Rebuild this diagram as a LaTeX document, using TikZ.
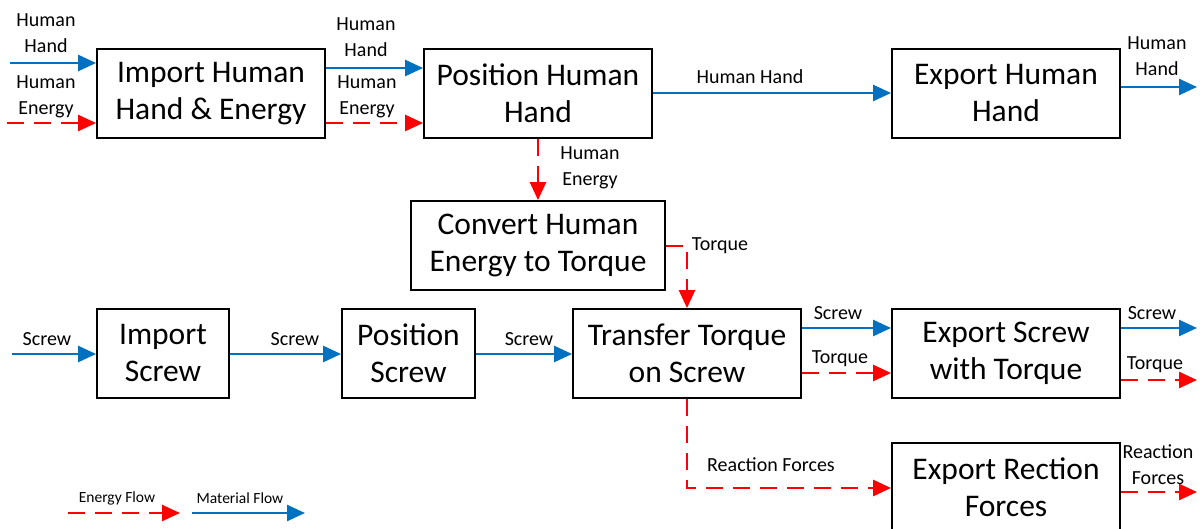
\documentclass[tikz,border=0pt]{standalone}
\usepackage{fontspec}
\setmainfont{Carlito}
\usetikzlibrary{arrows.meta}
\definecolor{matblue}{HTML}{0070C0}
\definecolor{enred}{HTML}{FF0000}
\newcommand{\boxfont}{\fontsize{31.5}{37}\selectfont}
\newcommand{\lblbig}{\fontsize{20}{26}\selectfont}
\newcommand{\lbllegend}{\fontsize{15.5}{18}\selectfont}
\begin{document}
\begin{tikzpicture}[x=1pt,y=-1pt,
  box/.style={draw, line width=1.8pt, minimum width=#1, minimum height=89pt, inner sep=0pt, align=center, font=\boxfont},
  mat/.style={draw=matblue, line width=2.5pt, -{Triangle[length=18pt,width=16pt]}},
  en/.style={draw=enred, line width=2.5pt, dash pattern=on 17pt off 10pt, -{Triangle[length=18pt,width=16pt]}},
  lb/.style={align=center, inner sep=0pt, font=\lblbig}]
\useasboundingbox (0,0) rectangle (1203,529);
% boxes
\node[box=228pt] (imp) at (211,93.5) {Import Human\\Hand \& Energy};
\node[box=228pt] (pos) at (538,93.5) {Position Human\\Hand};
\node[box=228pt] (exh) at (1006,93.5) {Export Human\\Hand};
\node[box=254pt] (conv) at (538,245.5) {Convert Human\\Energy to Torque};
\node[box=132pt] (isc) at (163,353.5) {Import\\Screw};
\node[box=133pt] (psc) at (408.5,353.5) {Position\\Screw};
\node[box=228pt] (tr) at (687,353.5) {Transfer Torque\\on Screw};
\node[box=228pt] (exs) at (1006,353.5) {Export Screw\\with Torque};
\node[box=228pt] (exr) at (1006,487.5) {Export Rection\\Forces};
% free ends
\coordinate (hhin) at (10,63);
\coordinate (hein) at (7,123);
\coordinate (hhout) at (1197,87);
\coordinate (scin) at (12,354);
\coordinate (scout) at (1197,328);
\coordinate (tqout) at (1197,380);
\coordinate (rfout) at (1197,492);
\coordinate (tk) at (687,246);
\coordinate (rf) at (687,488);
% top row flows
\draw[mat] (hhin) -- (imp.west |- hhin);
\draw[en] (hein) -- (imp.west |- hein);
\draw[mat] (imp.east |- 0,68) -- (pos.west |- 0,68);
\draw[en] (imp.east |- 0,123) -- (pos.west |- 0,123);
\draw[mat] (pos.east |- 0,93) -- (exh.west |- 0,93);
\draw[mat] (exh.east |- hhout) -- (hhout);
\draw[en] (pos.south) -- (conv.north);
\draw[en] (conv.east |- tk) -- (tk) -- (tr.north);
% bottom row flows
\draw[mat] (scin) -- (isc.west |- scin);
\draw[mat] (isc.east |- 0,354) -- (psc.west |- 0,354);
\draw[mat] (psc.east |- 0,354) -- (tr.west |- 0,354);
\draw[mat] (tr.east |- 0,328) -- (exs.west |- 0,328);
\draw[en] (tr.east |- 0,373) -- (exs.west |- 0,373);
\draw[mat] (exs.east |- scout) -- (scout);
\draw[en] (exs.east |- tqout) -- (tqout);
\draw[en] (tr.south) -- (rf) -- (exr.west |- rf);
\draw[en] (exr.east |- rfout) -- (rfout);
% labels
\node[lb] (l1) at (46,33) {Human\\Hand};
\node[lb] (l2) at (46,97) {Human\\Energy};
\node[lb] (l3) at (366,37) {Human\\Hand};
\node[lb] (l4) at (367,97) {Human\\Energy};
\node[lb] (l5) at (750,77) {Human Hand};
\node[lb] (l6) at (1157,56) {Human\\Hand};
\node[lb] (l7) at (590,168) {Human\\Energy};
\node[lb] (l8) at (720,246) {Torque};
\node[lb] (l9) at (47,339) {Screw};
\node[lb] (l10) at (295,339) {Screw};
\node[lb] (l11) at (529,339) {Screw};
\node[lb] (l12) at (838,313) {Screw};
\node[lb] (l13) at (840,359) {Torque};
\node[lb] (l14) at (1152,313) {Screw};
\node[lb] (l15) at (1155,365) {Torque};
\node[lb] (l16) at (771,465) {Reaction Forces};
\node[lb] (l17) at (1158,465) {Reaction\\Forces};
% legend
\coordinate (ea) at (68,513);
\coordinate (eb) at (180,513);
\coordinate (ma) at (192,513);
\coordinate (mb) at (305,513);
\draw[en] (ea) -- (eb);
\draw[mat] (ma) -- (mb);
\node[inner sep=0pt, font=\lbllegend] (leg1) at (117,498) {Energy Flow};
\node[inner sep=0pt, font=\lbllegend] (leg2) at (240,498) {Material Flow};
\end{tikzpicture}
\end{document}
